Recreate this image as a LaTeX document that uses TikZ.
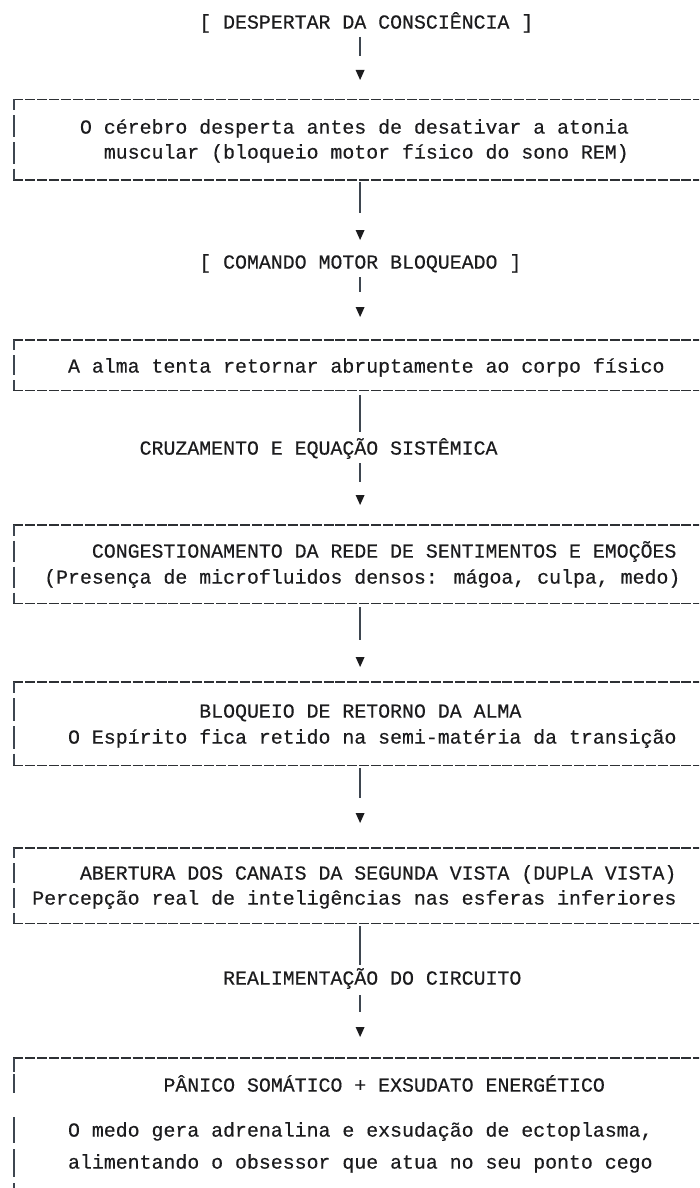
\documentclass[tikz,border=0pt]{standalone}
\usepackage{fontspec}
\newfontfamily\mono{Liberation Mono}[FakeBold=0.35]
\usetikzlibrary{calc}
\definecolor{txt}{RGB}{28,28,30}
\definecolor{ln}{RGB}{62,70,80}
\definecolor{hln}{RGB}{45,48,52}
\tikzset{
  lbl/.style={anchor=west, inner sep=0pt, text height=13.2pt, text depth=0pt,
              font=\mono\fontsize{19.88}{24}\selectfont, text=txt},
  tri/.style={inner sep=0pt, minimum width=9pt, minimum height=10pt,
              path picture={\fill[txt] (path picture bounding box.north west) --
                (path picture bounding box.north east) --
                (path picture bounding box.south) -- cycle;}},
  conn/.style={draw=ln, line width=1.6pt},
  hb/.style={draw=hln, line width=1.4pt, dash pattern=on 10pt off 1.93pt},
  vb/.style={draw=ln, line width=1.7pt},
  boxnode/.style={inner sep=0pt, anchor=north west, minimum width=720pt, draw=none},
}
\newcommand\lborder[3]{%
  \pgfmathsetmacro\hh{(#2-#1)/(#3+1)}%
  \draw[vb] (14.2,#1) -- (14.2,{#1+\hh/2-2.5});
  \foreach \i in {1,...,#3} {\draw[vb] (14.2,{#1+\hh/2+(\i-1)*\hh+2.5}) -- (14.2,{#1+\hh/2+\i*\hh-2.5});}
  \draw[vb] (14.2,{#2-\hh/2+2.5}) -- (14.2,#2);
}
\begin{document}
\begin{tikzpicture}[x=1pt,y=-1pt]
\useasboundingbox (0,0) rectangle (699,1188);
\clip (0,0) rectangle (699,1188);
\fill[white] (0,0) rectangle (699,1188);

% boxes
\node[boxnode, minimum height=80pt] (b1) at (14.2,99.5) {};
\node[boxnode, minimum height=50pt] (b2) at (14.2,340) {};
\node[boxnode, minimum height=78pt] (b3) at (14.2,525) {};
\node[boxnode, minimum height=83pt] (b4) at (14.2,682) {};
\node[boxnode, minimum height=75pt] (b5) at (14.2,848) {};
\node[boxnode, minimum height=200pt] (b6) at (14.2,1058) {};

\foreach \b in {b1,b2,b3,b4,b5} {
  \draw[hb] ([xshift=-0.85pt]\b.north west) -- (\b.north east);
  \draw[hb] ([xshift=-0.85pt]\b.south west) -- (\b.south east);
}
\draw[hb] ([xshift=-0.85pt]b6.north west) -- (b6.north east);

\lborder{99.5}{179.5}{2}
\lborder{340}{390}{1}
\lborder{525}{603}{2}
\lborder{682}{765}{2}
\lborder{848}{923}{2}
\draw[vb] (14.2,1058) -- (14.2,1072);
\draw[vb] (14.2,1074) -- (14.2,1093);
\draw[vb] (14.2,1117) -- (14.2,1143);
\draw[vb] (14.2,1149) -- (14.2,1177);
\draw[vb] (14.2,1183) -- (14.2,1200);

% texts
\node[lbl] (t1) at (199.08,22) {[ DESPERTAR DA CONSCIÊNCIA ]};
\node[lbl] (b1t1) at (79.78,127) {O cérebro desperta antes de desativar a atonia};
\node[lbl] (b1t2) at (103.64,152) {muscular (bloqueio motor físico do sono REM)};
\node[lbl] (t2) at (199.08,262) {[ COMANDO MOTOR BLOQUEADO ]};
\node[lbl] (b2t1) at (67.85,366) {A alma tenta retornar abruptamente ao corpo físico};
\node[lbl] (l1) at (139.43,448) {CRUZAMENTO E EQUAÇÃO SISTÊMICA};
\node[lbl] (b3t1) at (91.71,551) {CONGESTIONAMENTO DA REDE DE SENTIMENTOS E EMOÇÕES};
\node[lbl] (b3t2) at (43.99,577) {(Presença de microfluidos densos: mágoa, culpa, medo)};
\node[lbl] (b4t1) at (199.08,711) {BLOQUEIO DE RETORNO DA ALMA};
\node[lbl] (b4t2) at (67.85,737) {O Espírito fica retido na semi-matéria da transição};
\node[lbl] (b5t1) at (79.78,873) {ABERTURA DOS CANAIS DA SEGUNDA VISTA (DUPLA VISTA)};
\node[lbl] (b5t2) at (32.06,898) {Percepção real de inteligências nas esferas inferiores};
\node[lbl] (l2) at (222.94,978) {REALIMENTAÇÃO DO CIRCUITO};
\node[lbl] (b6t1) at (163.29,1085) {PÂNICO SOMÁTICO + EXSUDATO ENERGÉTICO};
\node[lbl] (b6t2) at (67.85,1130) {O medo gera adrenalina e exsudação de ectoplasma,};
\node[lbl] (b6t3) at (67.85,1162) {alimentando o obsessor que atua no seu ponto cego};

% arrow heads
\node[tri] (a1) at (360.1,75) {};
\node[tri] (a2) at (360.1,235) {};
\node[tri] (a3) at (360.1,312) {};
\node[tri] (a4) at (360.1,500) {};
\node[tri] (a5) at (360.1,662) {};
\node[tri] (a6) at (360.1,818) {};
\node[tri] (a7) at (360.1,1032) {};

% connectors
\draw[conn, shorten <=15pt, shorten >=14pt] (a1 |- t1) -- (a1);
\draw[conn, shorten <=2.5pt, shorten >=17pt] (a2 |- b1.south) -- (a2);
\draw[conn, shorten <=15pt, shorten >=15pt] (a3 |- t2) -- (a3);
\draw[conn, shorten <=5pt, shorten >=16pt] (a4 |- b2.south) -- (a4 |- l1);
\draw[conn, shorten <=15pt, shorten >=13pt] (a4 |- l1) -- (a4);
\draw[conn, shorten <=4pt, shorten >=17pt] (a5 |- b3.south) -- (a5);
\draw[conn, shorten <=3pt, shorten >=15pt] (a6 |- b4.south) -- (a6);
\draw[conn, shorten <=3pt, shorten >=13pt] (a7 |- b5.south) -- (a7 |- l2);
\draw[conn, shorten <=17pt, shorten >=15pt] (a7 |- l2) -- (a7);
\end{tikzpicture}
\end{document}
